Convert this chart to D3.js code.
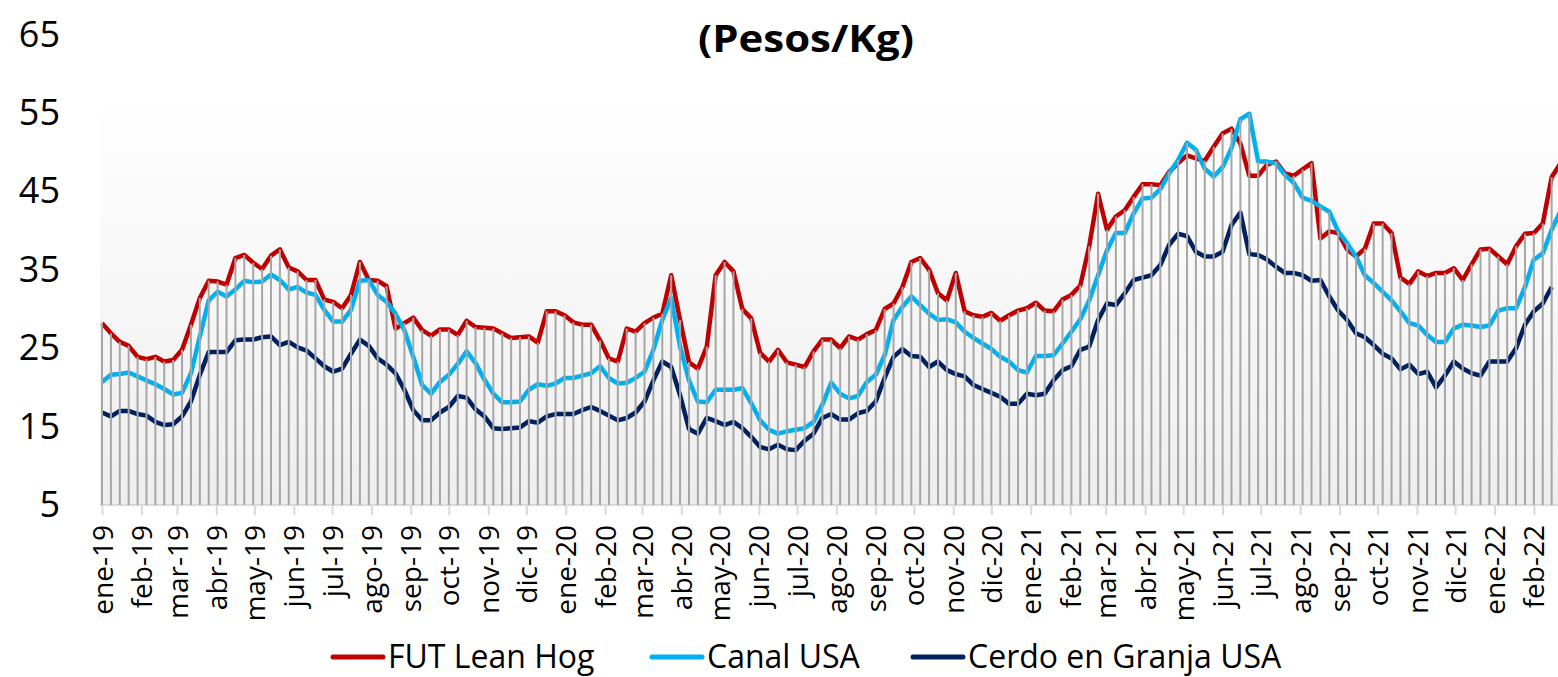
<!DOCTYPE html>
<html>
<head>
<meta charset="utf-8">
<script src="https://cdn.jsdelivr.net/npm/d3@7"></script>
<style>
  body { margin: 0; background: #fff; }
  text { font-family: "Open Sans", sans-serif; fill: #000; }
</style>
</head>
<body>
<div id="chart"></div>
<script>
// weekly data, first week = 1 jan 2019
var firstWeek = Date.UTC(2019, 0, 1);
var monthNames = ["ene", "feb", "mar", "abr", "may", "jun", "jul", "ago", "sep", "oct", "nov", "dic"];
var yTicks = [5, 15, 25, 35, 45, 55, 65];
var seriesNames = ["FUT Lean Hog", "Canal USA", "Cerdo en Granja USA"];

var futLeanHog = [
  28.2, 26.9, 25.8, 25.3, 23.9, 23.6, 23.9, 23.3, 23.5, 24.8,
  28.0, 31.4, 33.6, 33.5, 33.1, 36.5, 36.9, 35.9, 35.1, 36.8,
  37.6, 35.3, 34.8, 33.7, 33.7, 31.2, 30.9, 30.1, 31.8, 36.0,
  33.7, 33.6, 32.9, 27.5, 28.2, 28.9, 27.3, 26.6, 27.4, 27.4,
  26.7, 28.5, 27.7, 27.6, 27.5, 26.9, 26.3, 26.4, 26.5, 25.7,
  29.7, 29.7, 29.2, 28.3, 28.0, 28.0, 26.0, 23.7, 23.3, 27.5,
  27.1, 28.2, 28.9, 29.4, 34.3, 28.6, 23.2, 22.4, 25.2, 34.3,
  36.0, 34.8, 30.0, 28.8, 24.4, 23.3, 24.8, 23.2, 22.9, 22.6,
  24.6, 26.1, 26.1, 25.0, 26.5, 26.1, 26.8, 27.3, 30.0, 30.7,
  32.8, 36.0, 36.5, 35.0, 32.0, 31.1, 34.6, 29.7, 29.2, 29.0,
  29.5, 28.5, 29.2, 29.8, 30.1, 30.8, 29.8, 29.7, 31.2, 31.8,
  33.0, 38.0, 44.7, 40.1, 41.8, 42.6, 44.3, 45.9, 45.9, 45.8,
  47.5, 48.6, 49.6, 49.2, 48.9, 50.7, 52.4, 53.0, 51.1, 47.0,
  47.0, 48.4, 48.8, 47.3, 47.0, 47.8, 48.6, 39.0, 39.9, 39.7,
  37.6, 36.7, 37.7, 40.9, 40.9, 39.7, 34.0, 33.2, 34.8, 34.2,
  34.6, 34.6, 35.2, 33.7, 35.7, 37.6, 37.7, 36.7, 35.7, 38.0,
  39.6, 39.7, 40.9, 46.8, 48.6
];

var canalUSA = [
  20.7, 21.6, 21.7, 21.9, 21.4, 20.9, 20.4, 19.8, 19.1, 19.3,
  21.8, 26.5, 31.1, 32.2, 31.6, 32.5, 33.6, 33.4, 33.5, 34.4,
  33.7, 32.5, 32.8, 32.1, 31.8, 29.9, 28.4, 28.4, 29.9, 33.6,
  33.7, 31.8, 30.9, 29.4, 27.3, 23.9, 20.3, 19.2, 20.7, 21.6,
  23.0, 24.6, 23.1, 21.0, 19.2, 18.1, 18.1, 18.2, 19.7, 20.4,
  20.2, 20.5, 21.2, 21.2, 21.5, 21.8, 22.7, 21.2, 20.5, 20.6,
  21.2, 22.0, 24.8, 28.6, 31.4, 25.2, 20.9, 18.2, 18.1, 19.7,
  19.7, 19.7, 19.9, 18.0, 15.8, 14.6, 14.1, 14.4, 14.6, 14.8,
  15.6, 17.8, 20.6, 19.2, 18.6, 18.9, 20.7, 21.6, 24.1, 28.6,
  30.3, 31.6, 30.5, 29.4, 28.6, 28.7, 28.3, 27.1, 26.3, 25.6,
  24.9, 23.9, 23.3, 22.2, 21.9, 24.0, 24.0, 24.1, 25.6, 27.1,
  28.7, 31.1, 34.3, 37.5, 39.7, 39.7, 42.2, 44.1, 44.2, 45.3,
  47.3, 49.0, 51.2, 50.3, 47.9, 46.9, 48.1, 50.5, 54.2, 54.9,
  48.8, 48.8, 48.6, 47.1, 46.1, 44.2, 43.8, 43.1, 42.4, 39.9,
  38.4, 36.7, 34.3, 33.3, 32.2, 31.1, 29.7, 28.2, 27.9, 26.7,
  25.8, 25.8, 27.5, 28.0, 27.9, 27.7, 27.9, 29.8, 30.1, 30.1,
  32.8, 36.3, 37.1, 40.1, 42.5
];

var cerdoGranja = [
  16.8, 16.3, 17.0, 17.0, 16.6, 16.4, 15.6, 15.2, 15.3, 16.3,
  18.2, 21.6, 24.5, 24.5, 24.5, 26.0, 26.1, 26.1, 26.4, 26.5,
  25.4, 25.8, 25.1, 24.7, 23.7, 22.7, 22.0, 22.4, 24.3, 26.1,
  25.3, 23.7, 22.9, 21.8, 19.7, 17.1, 15.8, 15.8, 16.8, 17.5,
  18.9, 18.7, 17.2, 16.3, 14.8, 14.7, 14.8, 14.9, 15.7, 15.5,
  16.3, 16.6, 16.6, 16.6, 17.1, 17.5, 17.0, 16.4, 15.8, 16.1,
  16.8, 18.2, 20.9, 23.3, 22.6, 19.0, 14.7, 14.1, 16.1, 15.7,
  15.2, 15.6, 14.8, 13.7, 12.4, 12.1, 12.7, 12.1, 12.0, 13.2,
  14.1, 16.1, 16.6, 15.9, 15.9, 16.7, 17.0, 18.2, 21.2, 23.9,
  24.9, 24.0, 23.9, 22.6, 23.3, 22.2, 21.7, 21.4, 20.3, 19.8,
  19.3, 18.8, 17.9, 17.9, 19.2, 19.0, 19.2, 20.9, 22.2, 22.7,
  24.8, 25.2, 28.6, 30.7, 30.5, 32.0, 33.7, 34.0, 34.3, 35.6,
  38.2, 39.6, 39.3, 37.3, 36.7, 36.7, 37.3, 40.7, 42.3, 37.0,
  36.9, 36.3, 35.4, 34.6, 34.6, 34.3, 33.6, 33.7, 31.6, 29.8,
  28.6, 26.9, 26.4, 25.4, 24.3, 23.7, 22.3, 22.9, 21.7, 22.0,
  20.0, 21.5, 23.3, 22.4, 21.8, 21.5, 23.3, 23.3, 23.3, 25.0,
  28.0, 29.7, 30.7, 32.8, null
];

var colors = ["#c00000", "#00b0f0", "#002060"];

var svgWidth = 1558;
var svgHeight = 677;

var svg = d3.select("#chart")
  .append("svg")
  .attr("width", svgWidth)
  .attr("height", svgHeight);

// build rows
var dates = futLeanHog.map((v, i) => d3.utcDay.offset(new Date(firstWeek), i * 7));
var allSeries = [futLeanHog, canalUSA, cerdoGranja];

// scales
var x = d3.scaleUtc()
  .domain([new Date(firstWeek), new Date(Date.UTC(2022, 1, 20))])
  .range([102, 1558]);

var y = d3.scaleLinear()
  .domain([5, 65])
  .range([505, 34.6]);

// plot background gradient
var defs = svg.append("defs");
var grad = defs.append("linearGradient")
  .attr("id", "bg")
  .attr("x1", 0).attr("y1", 0).attr("x2", 0).attr("y2", 1);
grad.append("stop").attr("offset", "0%").attr("stop-color", "#ffffff");
grad.append("stop").attr("offset", "100%").attr("stop-color", "#eeeeee");

svg.append("rect")
  .attr("x", 100)
  .attr("y", 95)
  .attr("width", 1458)
  .attr("height", 410)
  .attr("fill", "url(#bg)");

// title
svg.append("text")
  .attr("x", 806)
  .attr("y", 52)
  .attr("text-anchor", "middle")
  .attr("font-size", 37)
  .attr("font-weight", "bold")
  .attr("textLength", 216)
  .attr("lengthAdjust", "spacingAndGlyphs")
  .text("(Pesos/Kg)");

// y axis (labels only)
var yAxis = svg.append("g")
  .attr("transform", "translate(60,0)")
  .call(d3.axisLeft(y).tickValues(yTicks).tickSize(0).tickPadding(0));
yAxis.select(".domain").remove();
yAxis.selectAll("text")
  .attr("font-size", 36)
  .attr("font-family", "Open Sans")
  .attr("fill", "#000");

// x axis
var xAxis = svg.append("g")
  .attr("transform", "translate(0,505)")
  .call(d3.axisBottom(x)
    .ticks(d3.utcMonth.every(1))
    .tickSizeInner(10)
    .tickSizeOuter(0)
    .tickFormat(d => monthNames[d.getUTCMonth()] + "-" + String(d.getUTCFullYear()).slice(2)));
xAxis.select(".domain")
  .attr("stroke", "#d9d9d9")
  .attr("stroke-width", 2)
  .attr("d", "M100,0H1558");
xAxis.selectAll(".tick line")
  .attr("stroke", "#d9d9d9")
  .attr("stroke-width", 2);
xAxis.selectAll(".tick text")
  .attr("font-size", 28)
  .attr("font-family", "Open Sans")
  .attr("fill", "#000")
  .attr("text-anchor", "end")
  .attr("transform", "rotate(-90)")
  .attr("x", -20)
  .attr("y", 0)
  .attr("dy", "0.36em");

// series lines
var line = d3.line()
  .defined(d => d.v != null)
  .x(d => x(d.date))
  .y(d => y(d.v));

allSeries.forEach(function (values, s) {
  var rows = values.map((v, i) => ({ date: dates[i], v: v }));
  svg.append("path")
    .datum(rows)
    .attr("fill", "none")
    .attr("stroke", colors[s])
    .attr("stroke-width", 4.5)
    .attr("stroke-linejoin", "round")
    .attr("d", line);
});

// drop lines from the highest series to the axis
svg.append("g")
  .selectAll("line")
  .data(dates)
  .enter()
  .append("line")
  .attr("x1", d => x(d))
  .attr("x2", d => x(d))
  .attr("y1", (d, i) => y(d3.max(allSeries, s => s[i])))
  .attr("y2", y(5))
  .attr("stroke", "#a6a6a6")
  .attr("stroke-width", 2);

// legend
var legendX = [333, 652, 913];
var legend = svg.append("g");
seriesNames.forEach(function (name, i) {
  legend.append("line")
    .attr("x1", legendX[i])
    .attr("x2", legendX[i] + 50)
    .attr("y1", 657)
    .attr("y2", 657)
    .attr("stroke", colors[i])
    .attr("stroke-width", 5)
    .attr("stroke-linecap", "round");
  legend.append("text")
    .attr("x", legendX[i] + 55)
    .attr("y", 668)
    .attr("font-size", 32)
    .text(name);
});
</script>
</body>
</html>
